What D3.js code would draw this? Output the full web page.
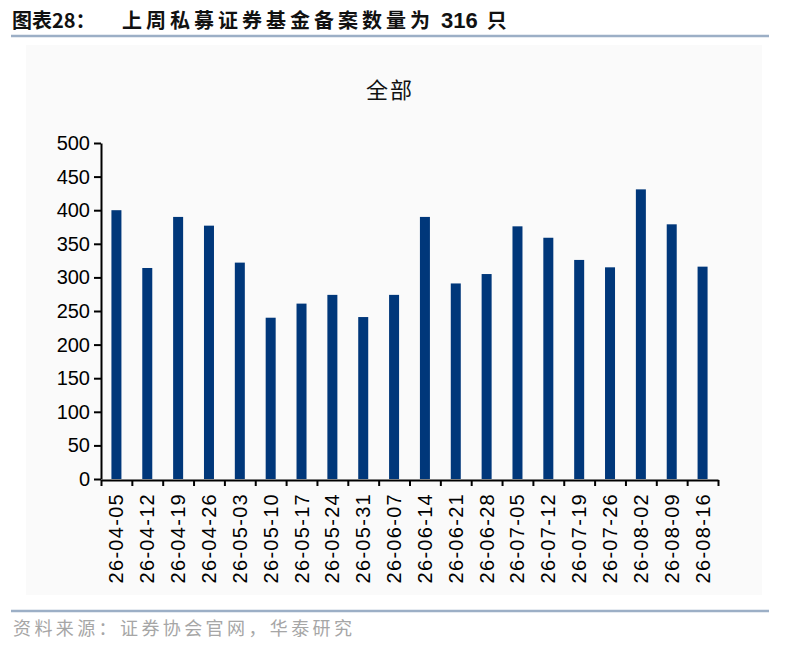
<!DOCTYPE html>
<html>
<head>
<meta charset="utf-8">
<script src="https://cdn.jsdelivr.net/npm/d3@7"></script>
<style>
  body { margin: 0; background: #ffffff; }
  text { font-family: "Liberation Sans", Arial, sans-serif; }
  .cjk { font-family: "Noto Sans CJK SC", sans-serif; }
</style>
</head>
<body>
<script>
//weekly dates (category labels)
var weeks = ["26-04-05", "26-04-12", "26-04-19", "26-04-26", "26-05-03", "26-05-10",
    "26-05-17", "26-05-24", "26-05-31", "26-06-07", "26-06-14", "26-06-21", "26-06-28",
    "26-07-05", "26-07-12", "26-07-19", "26-07-26", "26-08-02", "26-08-09", "26-08-16"];

//number of private securities funds filed each week
var filings = [400, 314, 390, 377, 322, 240, 261, 274, 241, 274, 390, 291, 305, 376,
    359, 326, 315, 431, 379, 316];

//y axis tick values
var yTicks = [0, 50, 100, 150, 200, 250, 300, 350, 400, 450, 500];

window.onload = function () {
    var w = 792, h = 647;

    var svg = d3.select("body")
        .append("svg")
        .attr("width", w)
        .attr("height", h);

    //faint panel behind the chart
    svg.append("rect")
        .attr("x", 26)
        .attr("y", 45)
        .attr("width", 736)
        .attr("height", 550)
        .style("fill", "#fafafa");

    //report title
    svg.append("text")
        .attr("class", "cjk")
        .attr("x", 12)
        .attr("y", 28)
        .style("font-size", "20px")
        .style("font-weight", "bold")
        .style("fill", "#111")
        .text("图表28：");

    var title = svg.append("text")
        .attr("class", "cjk")
        .attr("x", 122)
        .attr("y", 28)
        .style("font-size", "20px")
        .style("font-weight", "bold")
        .style("fill", "#111");

    title.append("tspan")
        .style("letter-spacing", "4px")
        .text("上周私募证券基金备案数量为");
    title.append("tspan")
        .attr("dx", 7)
        .style("font-family", "'Liberation Sans', Arial, sans-serif")
        .style("font-size", "22px")
        .text("316");
    title.append("tspan")
        .attr("dx", 9)
        .text("只");

    //header and footer rules
    svg.append("line")
        .attr("x1", 11).attr("x2", 769)
        .attr("y1", 36).attr("y2", 36)
        .style("stroke", "#9cafc6")
        .style("stroke-width", 2.5);

    svg.append("line")
        .attr("x1", 11).attr("x2", 769)
        .attr("y1", 611).attr("y2", 611)
        .style("stroke", "#9cafc6")
        .style("stroke-width", 2.5);

    //chart subtitle
    svg.append("text")
        .attr("class", "cjk")
        .attr("x", 390)
        .attr("y", 98)
        .attr("text-anchor", "middle")
        .style("font-size", "22px")
        .style("letter-spacing", "2px")
        .style("fill", "#111")
        .text("全部");

    //source note
    svg.append("text")
        .attr("class", "cjk")
        .attr("x", 13)
        .attr("y", 635)
        .attr("textLength", 339)
        .attr("lengthAdjust", "spacing")
        .style("font-size", "18px")
        .style("fill", "#a6a6a6")
        .text("资料来源：证券协会官网，华泰研究");

    //scales
    var left = 101, right = 718, top = 143, bottom = 479;

    var x = d3.scaleBand()
        .domain(weeks)
        .range([left, right]);

    var xEdge = d3.scaleLinear()
        .domain([0, weeks.length])
        .range([left, right]);

    var y = d3.scaleLinear()
        .domain([0, 500])
        .range([bottom, top]);

    //bars
    var barW = 10;
    svg.selectAll(".bar")
        .data(filings)
        .enter()
        .append("rect")
        .attr("class", "bar")
        .attr("x", function (d, i) {
            return x(weeks[i]) + x.bandwidth() / 2 - barW / 2;
        })
        .attr("y", function (d) { return y(d); })
        .attr("width", barW)
        .attr("height", function (d) { return y(0) - y(d); })
        .style("fill", "#00377a");

    //y axis
    var yAxis = svg.append("g")
        .attr("transform", "translate(" + left + ",0)")
        .call(d3.axisLeft(y).tickValues(yTicks).tickSize(7).tickSizeOuter(0).tickPadding(4));

    yAxis.selectAll("path, line")
        .style("stroke", "#000")
        .style("stroke-width", 2);
    yAxis.selectAll("text")
        .style("font-size", "20px")
        .style("fill", "#000");

    //x axis: ticks between categories
    var xAxis = svg.append("g")
        .attr("transform", "translate(0," + (bottom + 1) + ")")
        .call(d3.axisBottom(xEdge).tickValues(d3.range(weeks.length + 1))
            .tickFormat("").tickSize(6).tickSizeOuter(0));

    xAxis.selectAll("path, line")
        .style("stroke", "#000")
        .style("stroke-width", 2);

    //x axis labels, rotated
    var xLabels = svg.append("g")
        .attr("transform", "translate(0," + (bottom + 1) + ")")
        .call(d3.axisBottom(x).tickSize(0));

    xLabels.select(".domain").remove();
    xLabels.selectAll("text")
        .attr("transform", "rotate(-90)")
        .attr("text-anchor", "end")
        .attr("x", -13)
        .attr("y", 0)
        .attr("dy", "0.35em")
        .style("font-size", "20px")
        .style("letter-spacing", "1.3px")
        .style("fill", "#000");
};
</script>
</body>
</html>
